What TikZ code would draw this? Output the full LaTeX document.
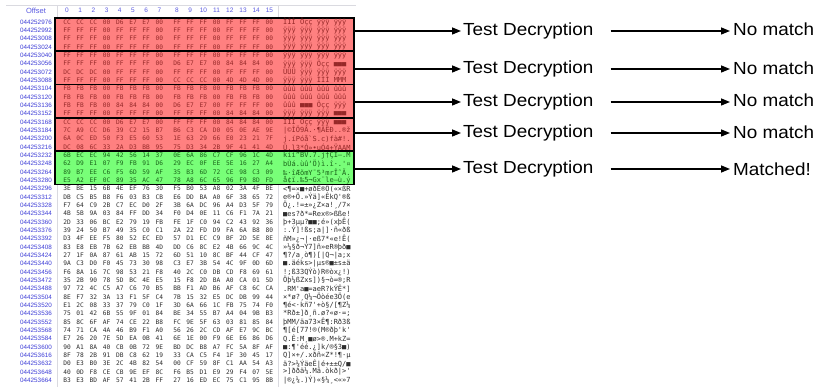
\documentclass[tikz,border=0pt]{standalone}
\usepackage{fontspec}
\setmainfont{Liberation Sans}
\newfontfamily\dumpfont{DejaVu Sans Mono}
\newfontfamily\labelfont{Liberation Sans}
\newfontfamily\flowfont[FakeStretch=1.08]{Liberation Sans}
\usetikzlibrary{arrows.meta}

\definecolor{offblue}{RGB}{60,60,215}
\definecolor{hdrblue}{RGB}{90,90,225}
\definecolor{hdrgray}{RGB}{218,218,224}
\definecolor{redfill}{RGB}{255,128,128}
\definecolor{redtext}{RGB}{150,40,40}
\definecolor{grnfill}{RGB}{120,255,120}
\definecolor{grntext}{RGB}{25,100,25}
\definecolor{plaintext}{RGB}{45,45,45}

% one line of the dump: hex bytes and their character view
\newcommand\dumprow[3]{%
  \expandafter\def\csname dumphex#1\endcsname{#2}%
  \expandafter\def\csname dumpasc#1\endcsname{#3}}

\dumprow{0}{CC,CC,CC,00,D6,E7,E7,00,FF,FF,FF,00,FF,FF,FF,00}{ÌÌÌ Öçç ÿÿÿ ÿÿÿ}
\dumprow{1}{FF,FF,FF,00,FF,FF,FF,00,FF,FF,FF,00,FF,FF,FF,00}{ÿÿÿ ÿÿÿ ÿÿÿ ÿÿÿ}
\dumprow{2}{FF,FF,FF,00,FF,FF,FF,00,FF,FF,FF,00,FF,FF,FF,00}{ÿÿÿ ÿÿÿ ÿÿÿ ÿÿÿ}
\dumprow{3}{FF,FF,FF,00,FF,FF,FF,00,FF,FF,FF,00,FF,FF,FF,00}{ÿÿÿ ÿÿÿ ÿÿÿ ÿÿÿ}
\dumprow{4}{FF,FF,FF,00,FF,FF,FF,00,FF,FF,FF,00,FF,FF,FF,00}{ÿÿÿ ÿÿÿ ÿÿÿ ÿÿÿ}
\dumprow{5}{FF,FF,FF,00,FF,FF,FF,00,D6,E7,E7,00,84,84,84,00}{ÿÿÿ ÿÿÿ Öçç ■■■}
\dumprow{6}{DC,DC,DC,00,FF,FF,FF,00,FF,FF,FF,00,FF,FF,FF,00}{ÜÜÜ ÿÿÿ ÿÿÿ ÿÿÿ}
\dumprow{7}{FF,FF,FF,00,FF,FF,FF,00,CC,CC,CC,00,4D,4D,4D,00}{ÿÿÿ ÿÿÿ ÌÌÌ MMM}
\dumprow{8}{FB,FB,FB,00,FB,FB,FB,00,FB,FB,FB,00,FB,FB,FB,00}{ûûû ûûû ûûû ûûû}
\dumprow{9}{FB,FB,FB,00,FB,FB,FB,00,FB,FB,FB,00,FB,FB,FB,00}{ûûû ûûû ûûû ûûû}
\dumprow{10}{FB,FB,FB,00,84,84,84,00,D6,E7,E7,00,FF,FF,FF,00}{ûûû ■■■ Öçç ÿÿÿ}
\dumprow{11}{FF,FF,FF,00,FF,FF,FF,00,FF,FF,FF,00,84,84,84,00}{ÿÿÿ ÿÿÿ ÿÿÿ ■■■}
\dumprow{12}{CC,CC,CC,00,D6,E7,E7,00,FF,FF,FF,00,84,84,84,00}{ÌÌÌ Öçç ÿÿÿ ■■■}
\dumprow{13}{7C,A9,CC,D6,39,C2,15,B7,B6,C3,CA,D0,05,0E,AE,9E}{|©ÌÖ9Â.·¶ÃÊÐ..®ž}
\dumprow{14}{6A,0C,ED,50,F3,E5,60,53,1E,63,29,66,E0,23,21,7F}{j.íPóå`S.c)fà\#!.}
\dumprow{15}{DC,08,6C,33,2A,D3,BB,95,75,D3,34,2B,9F,41,41,4D}{Ü.l3*Ó»•uÓ4+ŸAAM}
\dumprow{16}{6B,EC,EC,94,42,56,14,37,0E,6A,86,C7,CF,96,1C,4D}{kìì”BV.7.j†ÇÏ–.M}
\dumprow{17}{62,D9,E1,07,F9,FB,91,D6,29,EC,0F,EE,5E,16,27,A4}{bÙá.ùû‘Ö)ì.î·.'¤}
\dumprow{18}{89,B7,EE,C6,F5,6D,59,AF,35,B3,6D,72,CE,98,C3,09}{‰·îÆõmY¯5³mrÎ˜Ã.}
\dumprow{19}{E5,A2,EF,0C,89,35,AC,47,78,A8,6C,65,96,F9,8D,FD}{å¢ï.‰5¬Gx¨le–ù.ý}

\pgfmathdeclarerandomlist{hexdigits}{{0}{1}{2}{3}{4}{5}{6}{7}{8}{9}{A}{B}{C}{D}{E}{F}}
\pgfmathdeclarerandomlist{asciichars}{{a}{e}{k}{s}{x}{Q}{Z}{M}{R}{3}{7}{.}{:}{;}{=}{'}{!}{?}{[}{]}{(}{)}{<}{>}{/}{*}{+}{|}{ñ}{Ö}{þ}{·}{¸}{®}{§}{¶}{»}{«}{¬}{±}{µ}{×}{ø}{ß}{é}{ä}{¼}{■}{Ê}{ð}{Ý}{ò}{¿}{■}{.}}

\tikzset{
  bytecell/.style={font=\dumpfont\fontsize{6.2}{6.2}\selectfont, inner sep=0pt, anchor=center},
  asciicell/.style={font=\dumpfont\fontsize{7}{7}\selectfont, inner sep=0pt, anchor=west},
  offcell/.style={font=\labelfont\fontsize{6.3}{6.3}\selectfont, text=offblue, inner sep=0pt},
  hdrcell/.style={font=\labelfont\fontsize{6.5}{6.5}\selectfont, text=hdrblue, inner sep=0pt},
  blockbase/.style={draw=black, line width=1.6pt, inner sep=0pt,
    minimum width=299pt, minimum height=33.333pt},
  blockred/.style={blockbase, fill=redfill},
  blockgrn/.style={blockbase, fill=grnfill},
  stepbox/.style={font=\flowfont\fontsize{17.5}{17.5}\selectfont, inner sep=2pt, anchor=west},
  resbox/.style={font=\flowfont\fontsize{17.5}{17.5}\selectfont, inner sep=3pt, anchor=west},
  flow/.style={-{Triangle[length=9pt,width=7pt]}, line width=1.4pt},
}

\begin{document}
\begin{tikzpicture}[x=1pt,y=-1pt]
\useasboundingbox (0,0) rectangle (816,387);
\fill[white] (0,0) rectangle (816,387);

% dump frame: header rule and column separators
\draw[hdrgray, line width=0.8pt] (6,5.5) -- (356,5.5);
\draw[hdrgray, line width=0.8pt] (57,5.5) -- (57,387);
\draw[hdrgray, line width=0.8pt] (278,5.5) -- (278,387);

% column header
\node[hdrcell, font=\labelfont\fontsize{7.5}{7.5}\selectfont] (hdroff) at (36,10.5) {Offset};
\foreach \col in {0,...,15} {
  \pgfmathsetmacro\xx{ifthenelse(\col<8,67+13.2*\col,177+13.2*(\col-8))}
  \node[hdrcell] (hdr\col) at (\xx,10.5) {\col};
}

% highlighted 64-byte blocks
\foreach \k/\sty in {1/blockred,2/blockred,3/blockred,4/blockred,5/blockgrn} {
  \pgfmathsetmacro\yy{34.5+33.333*(\k-1)}
  \node[\sty] (blk\k) at (204.5,\yy) {};
}

% dump lines
\pgfmathsetseed{7}
\foreach \r in {0,...,43} {
  \pgfmathsetmacro\yy{22+8.333*\r}
  \ifnum\r<16 \def\tc{redtext}\else\ifnum\r<20 \def\tc{grntext}\else\def\tc{plaintext}\fi\fi
  \node[offcell] (off\r) at (36,\yy) {04425\the\numexpr2976+16*\r\relax};
  \ifnum\r<20
    \expandafter\let\expandafter\curhex\csname dumphex\r\endcsname
    \expandafter\let\expandafter\curasc\csname dumpasc\r\endcsname
  \else
    \gdef\curhex{}\gdef\curasc{}
    \foreach \col in {0,...,15} {
      \pgfmathrandomitem\ha{hexdigits}\pgfmathrandomitem\hb{hexdigits}
      \pgfmathrandomitem\ch{asciichars}
      \ifnum\col=0 \xdef\curhex{\ha\hb}\else\xdef\curhex{\curhex,\ha\hb}\fi
      \xdef\curasc{\curasc\ch}
    }
  \fi
  \foreach \byteval [count=\col from 0] in \curhex {
    \pgfmathsetmacro\xx{ifthenelse(\col<8,67+13.2*\col,177+13.2*(\col-8))}
    \node[bytecell, text=\tc] (b-\r-\col) at (\xx,\yy) {\byteval};
  }
  \node[asciicell, text=\tc] (asc\r) at (283,\yy) {\curasc};
}

% decryption steps
\node[stepbox] (td1) at (461,31)  {Test Decryption};
\node[stepbox] (td2) at (461,69)  {Test Decryption};
\node[stepbox] (td3) at (461,102) {Test Decryption};
\node[stepbox] (td4) at (461,133) {Test Decryption};
\node[stepbox] (td5) at (461,169) {Test Decryption};

\node[resbox] (res1) at (730,29)  {No match};
\node[resbox] (res2) at (730,68)  {No match};
\node[resbox] (res3) at (730,100) {No match};
\node[resbox] (res4) at (730,132) {No match};
\node[resbox] (res5) at (730,169) {Matched!};

\foreach \k in {1,...,5} {
  \draw[flow] (blk\k.east |- td\k.west) -- (td\k.west);
  \draw[flow] ([xshift=15pt]td\k.east) -- (td\k.east -| res\k.west);
}
\end{tikzpicture}
\end{document}
